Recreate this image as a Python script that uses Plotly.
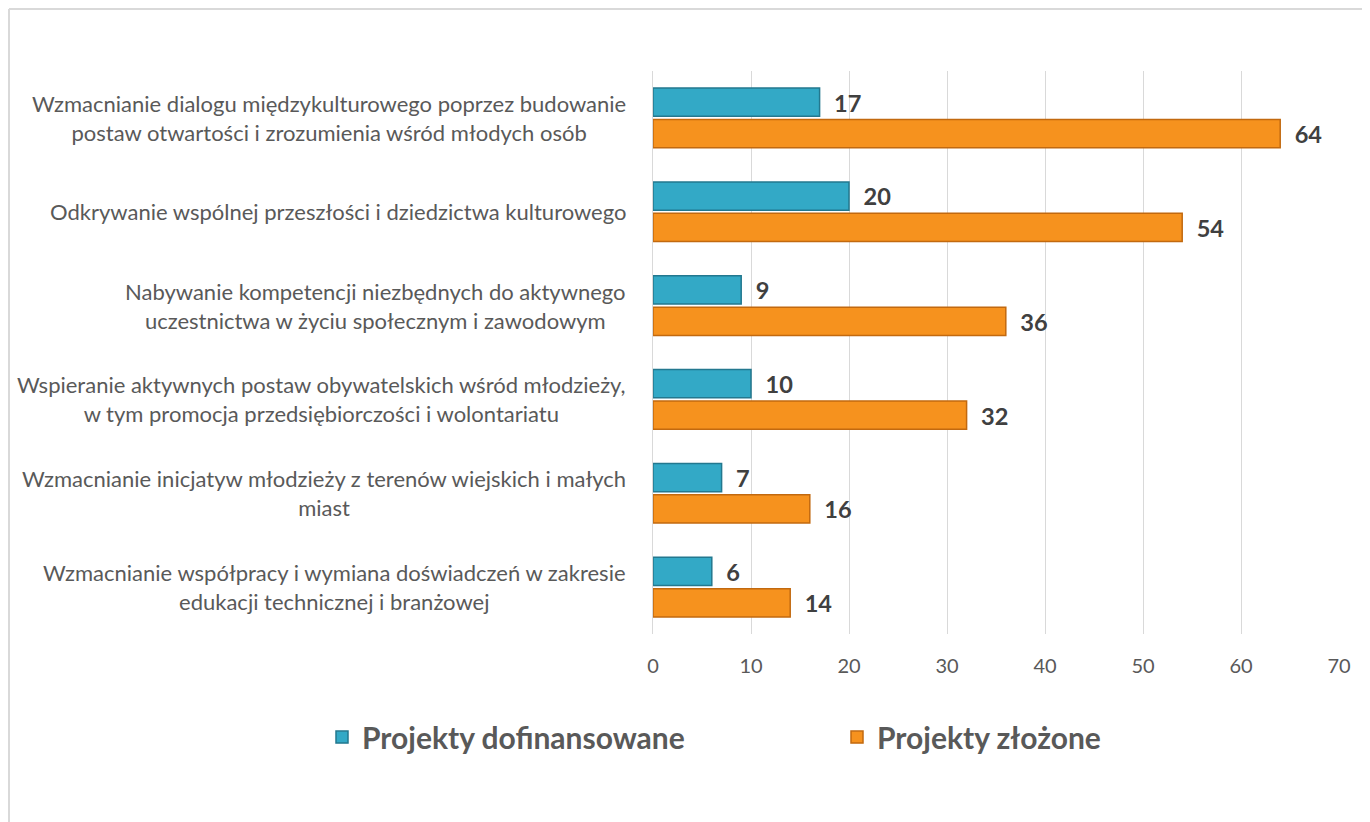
import plotly.graph_objects as go

categories = [
    "Wzmacnianie dialogu międzykulturowego poprzez budowanie<br>postaw otwartości i zrozumienia wśród młodych osób",
    "Odkrywanie wspólnej przeszłości i dziedzictwa kulturowego",
    "Nabywanie kompetencji niezbędnych do aktywnego<br>uczestnictwa w życiu społecznym i zawodowym",
    "Wspieranie aktywnych postaw obywatelskich wśród młodzieży,<br>w tym promocja przedsiębiorczości i wolontariatu",
    "Wzmacnianie inicjatyw młodzieży z terenów wiejskich i małych<br>miast",
    "Wzmacnianie współpracy i wymiana doświadczeń w zakresie<br>edukacji technicznej i branżowej",
]
cat_ids = ["c1", "c2", "c3", "c4", "c5", "c6"]
dofinansowane = [17, 20, 9, 10, 7, 6]
zlozone = [64, 54, 36, 32, 16, 14]
series_names = ["Projekty dofinansowane", "Projekty złożone"]
x_ticks = [0, 10, 20, 30, 40, 50, 60, 70]

FONT = "Lato, Carlito, Calibri, sans-serif"

W, H = 1370, 822
ML, MR, MT, MB = 645, 39, 63, 196
PW, PH = W - ML - MR, H - MT - MB

fig = go.Figure()
fig.add_trace(go.Bar(
    y=cat_ids, x=dofinansowane, orientation="h", name=series_names[0],
    marker=dict(color="#33A9C6", line=dict(color="#23788F", width=1.5)),
    text=dofinansowane, texttemplate="  %{x}", textposition="outside", cliponaxis=False,
    textfont=dict(family=FONT, size=25, color="#404040", weight="bold"),
    legend="legend", showlegend=True,
))
fig.add_trace(go.Bar(
    y=cat_ids, x=zlozone, orientation="h", name=series_names[1],
    marker=dict(color="#F6921E", line=dict(color="#C2690F", width=1.5)),
    text=zlozone, texttemplate="  %{x}", textposition="outside", cliponaxis=False,
    textfont=dict(family=FONT, size=25, color="#404040", weight="bold"),
    legend="legend2", showlegend=True,
))

annotations = []
for cid, lab in zip(cat_ids, categories):
    annotations.append(dict(
        x=(620 - ML) / PW, xref="paper", y=cid, yref="y", text=lab,
        xanchor="right", yanchor="middle", align="center", showarrow=False,
        font=dict(family=FONT, size=22, color="#595959"),
    ))

legend_style = dict(
    orientation="h", xref="container", xanchor="left",
    y=0.113, yref="container", yanchor="middle",
    font=dict(family=FONT, size=30, color="#595959", weight="bold"),
    itemwidth=30, bgcolor="rgba(0,0,0,0)", visible=True,
)

fig.update_layout(
    width=W, height=H, showlegend=True,
    margin=dict(l=ML, r=MR, t=MT, b=MB, autoexpand=False),
    paper_bgcolor="white", plot_bgcolor="white",
    barmode="group", bargap=0.33, bargroupgap=0.1,
    font=dict(family=FONT, color="#595959"),
    xaxis=dict(
        range=[0, 70], tickvals=x_ticks, showgrid=True, gridcolor="#D9D9D9",
        gridwidth=1, zeroline=False, showline=False,
        tickfont=dict(family=FONT, size=20, color="#595959"),
        ticks="", ticklabelstandoff=18,
    ),
    yaxis=dict(
        autorange="reversed", showticklabels=False, showgrid=False,
        zeroline=False, showline=True, linecolor="#D9D9D9", linewidth=1,
    ),
    legend=dict(x=314 / W, **legend_style),
    legend2=dict(x=829 / W, **legend_style),
    annotations=annotations,
    shapes=[
        dict(type="line", xref="paper", yref="paper", x0=(-ML + 1) / PW, x1=(-ML + 1) / PW,
             y0=1 + (MT - 1) / PH, y1=-MB / PH, line=dict(color="#D9D9D9", width=2)),
        dict(type="line", xref="paper", yref="paper", x0=(-ML + 1) / PW, x1=1 + MR / PW,
             y0=1 + (MT - 1) / PH, y1=1 + (MT - 1) / PH, line=dict(color="#D9D9D9", width=2)),
    ],
)

fig.write_html("out.html")
